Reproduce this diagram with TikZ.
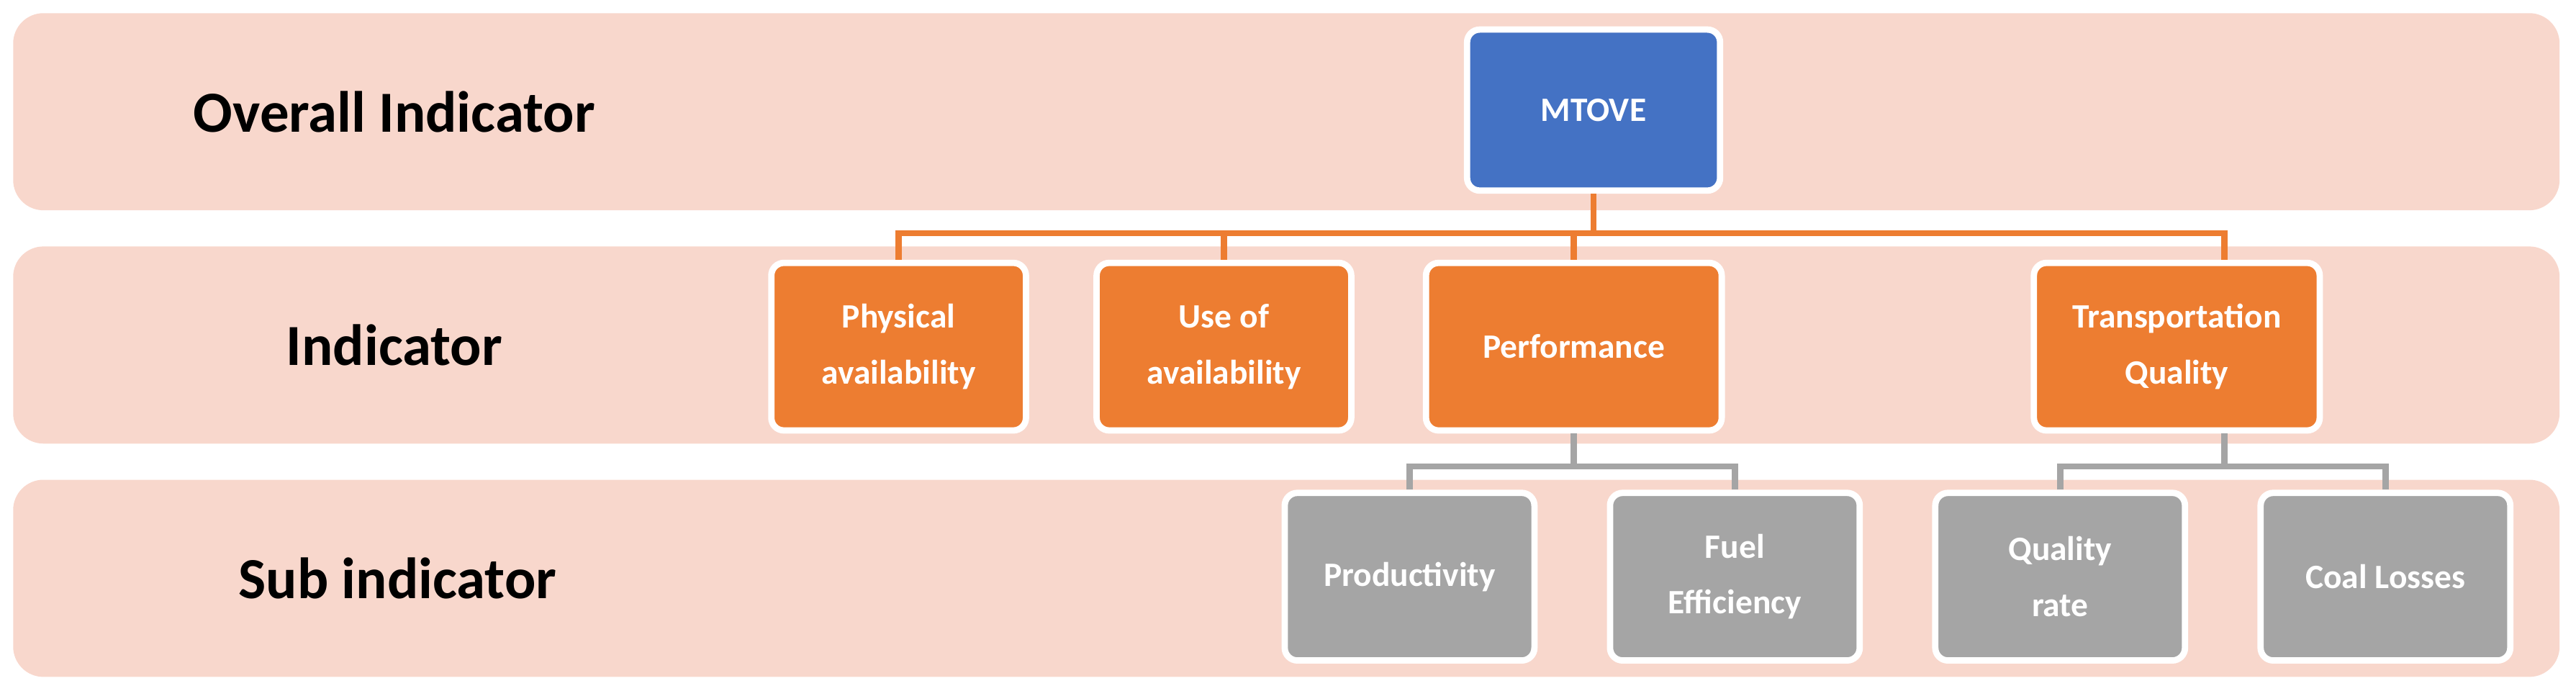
\documentclass[tikz,border=0pt]{standalone}
\usepackage{fontspec}
\setmainfont{Carlito}
\usetikzlibrary{positioning,calc}
\definecolor{bandpink}{RGB}{248,215,204}
\definecolor{topblue}{RGB}{68,114,196}
\definecolor{midorange}{RGB}{237,125,49}
\definecolor{subgray}{RGB}{165,165,165}
\tikzset{
  band/.style={fill=bandpink, draw=none, rounded corners=12pt},
  level/.style={font=\fontsize{23}{26}\selectfont\bfseries, anchor=center},
  box/.style={draw=white, line width=2.5pt, rounded corners=5pt, text=white,
    font=\fontsize{13.5}{22}\selectfont\bfseries, align=center, inner sep=0pt},
  orangeline/.style={midorange, line width=2.5pt},
  grayline/.style={subgray, line width=2.5pt}
}
\begin{document}
\begin{tikzpicture}[x=0.02283cm, y=-0.02283cm]
\useasboundingbox (0,0) rectangle (1568,420.5);
% Background bands
\fill[band] (8,8) rectangle (1558,128);
\fill[band] (8,150) rectangle (1558,270);
\fill[band] (8,292) rectangle (1558,412);
\node[level] (lvlone) at (240,68) {Overall Indicator};
\node[level] (lvltwo) at (240,210) {Indicator};
\node[level] (lvlthree) at (242,352) {Sub indicator};

% Top indicator
\node[box, fill=topblue, minimum width=154*0.02283cm, minimum height=98*0.02283cm] (mtove) at (970,67) {MTOVE};

% Indicators
\foreach \name/\x/\w/\txt in {phys/547/155/{Physical\\availability}, use/745/155/{Use of\\availability}, perf/958/180/{Performance}, trans/1325/174/{Transportation\\Quality}} {
  \node[box, fill=midorange, minimum width=\w*0.02283cm, minimum height=102*0.02283cm] (\name) at (\x,211) {\txt};
}

% Sub indicators
\foreach \name/\x/\txt in {prod/858/{Productivity}, fuel/1056/{Fuel\\Efficiency}, qual/1254/{Quality\\rate}, coal/1452/{Coal Losses}} {
  \node[box, fill=subgray, minimum width=152*0.02283cm, minimum height=102*0.02283cm] (\name) at (\x,351) {\txt};
}

% Connectors
\coordinate (hubtop) at ($(mtove.south)+(0,24)$);
\foreach \t in {phys,use} {
  \draw[orangeline] (mtove.south) -- (hubtop) -| (\t.north);
}
\draw[orangeline] (mtove.south) -- (hubtop) -| ($(perf.north)$);
\draw[orangeline] (mtove.south) -- (hubtop) -| ($(trans.north)+(29,0)$);
\coordinate (perfhub) at ($(perf.south)+(0,20)$);
\coordinate (transhub) at ($(trans.south)+(29,20)$);
\foreach \t in {prod,fuel} {
  \draw[grayline] (perf.south) -- (perfhub) -| (\t.north);
}
\foreach \t in {qual,coal} {
  \draw[grayline] ($(trans.south)+(29,0)$) -- (transhub) -| (\t.north);
}
\end{tikzpicture}
\end{document}
